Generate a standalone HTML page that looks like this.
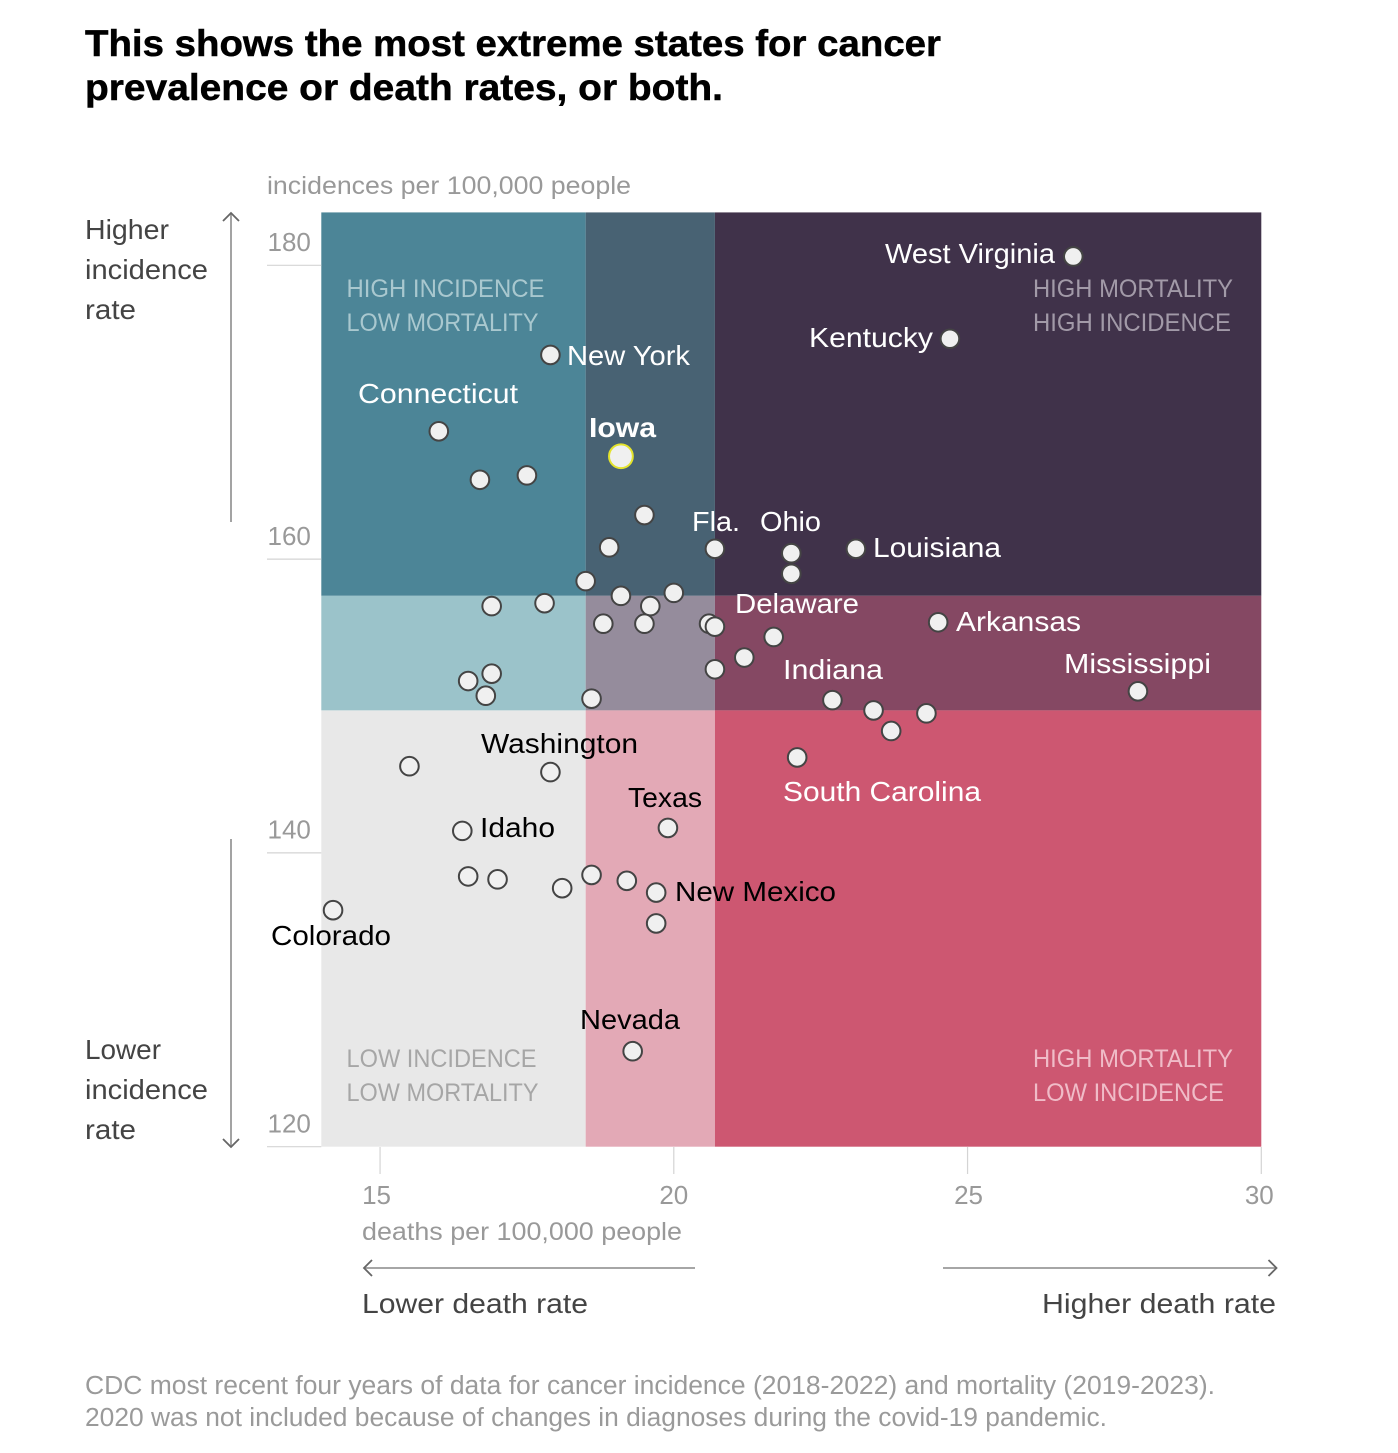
<!DOCTYPE html>
<html lang="en">
<head>
<meta charset="utf-8">
<title>Cancer incidence and mortality by state</title>
<style>
  html, body { margin: 0; padding: 0; background: #fff; }
  svg { display: block; font-family: "Liberation Sans", sans-serif; }
  .lbl { font-size: 28px; }
  .w { fill: #fff; }
  .k { fill: #000; }
  .q { font-size: 25px; }
  .side { font-size: 28px; fill: #444; }
  .unit { font-size: 25px; fill: #999; }
  .foot { font-size: 25.5px; fill: #9a9a9a; }
  .title { font-size: 37px; font-weight: bold; fill: #000; stroke: #000; stroke-width: 0.5px; }
</style>
</head>
<body>
<svg id="chart" width="1398" height="1453" viewBox="0 0 1398 1453" xmlns="http://www.w3.org/2000/svg">
  <rect width="1398" height="1453" fill="#fff"/>

  <text class="title" x="85" y="56" textLength="856" lengthAdjust="spacingAndGlyphs">This shows the most extreme states for cancer</text>
  <text class="title" x="85" y="100" textLength="638" lengthAdjust="spacingAndGlyphs">prevalence or death rates, or both.</text>

  <text class="unit" x="267" y="194" textLength="364" lengthAdjust="spacingAndGlyphs">incidences per 100,000 people</text>

  <g id="bands"></g>
  <g id="axes"></g>

  <g>
    <text class="q" fill="#a9c8cf" x="346.500" y="297" textLength="198" lengthAdjust="spacingAndGlyphs">HIGH INCIDENCE</text>
    <text class="q" fill="#a9c8cf" x="346.500" y="331" textLength="192" lengthAdjust="spacingAndGlyphs">LOW MORTALITY</text>
    <text class="q" fill="#a29aa8" x="1033" y="297" textLength="200" lengthAdjust="spacingAndGlyphs">HIGH MORTALITY</text>
    <text class="q" fill="#a29aa8" x="1033" y="331" textLength="198" lengthAdjust="spacingAndGlyphs">HIGH INCIDENCE</text>
    <text class="q" fill="#a6a6a6" x="346.500" y="1067" textLength="190" lengthAdjust="spacingAndGlyphs">LOW INCIDENCE</text>
    <text class="q" fill="#a6a6a6" x="346.500" y="1101" textLength="192" lengthAdjust="spacingAndGlyphs">LOW MORTALITY</text>
    <text class="q" fill="#f0bcc8" x="1033" y="1067" textLength="200" lengthAdjust="spacingAndGlyphs">HIGH MORTALITY</text>
    <text class="q" fill="#f0bcc8" x="1033" y="1101" textLength="191" lengthAdjust="spacingAndGlyphs">LOW INCIDENCE</text>
  </g>

  <g id="points"></g>

  <g>
    <text class="lbl w" x="885" y="263" textLength="170" lengthAdjust="spacingAndGlyphs">West Virginia</text>
    <text class="lbl w" x="809" y="347" textLength="124" lengthAdjust="spacingAndGlyphs">Kentucky</text>
    <text class="lbl w" x="567" y="365" textLength="123" lengthAdjust="spacingAndGlyphs">New York</text>
    <text class="lbl w" x="358" y="403" textLength="160" lengthAdjust="spacingAndGlyphs">Connecticut</text>
    <text class="lbl w" x="589" y="437" textLength="67" lengthAdjust="spacingAndGlyphs" font-weight="bold">Iowa</text>
    <text class="lbl w" x="692" y="531" textLength="48" lengthAdjust="spacingAndGlyphs">Fla.</text>
    <text class="lbl w" x="760" y="531" textLength="61" lengthAdjust="spacingAndGlyphs">Ohio</text>
    <text class="lbl w" x="873" y="557" textLength="128" lengthAdjust="spacingAndGlyphs">Louisiana</text>
    <text class="lbl w" x="735" y="613" textLength="124" lengthAdjust="spacingAndGlyphs">Delaware</text>
    <text class="lbl w" x="956" y="631" textLength="125" lengthAdjust="spacingAndGlyphs">Arkansas</text>
    <text class="lbl w" x="1064" y="673" textLength="147" lengthAdjust="spacingAndGlyphs">Mississippi</text>
    <text class="lbl w" x="783" y="679" textLength="100" lengthAdjust="spacingAndGlyphs">Indiana</text>
    <text class="lbl w" x="783" y="801" textLength="198" lengthAdjust="spacingAndGlyphs">South Carolina</text>
    <text class="lbl k" x="481" y="753" textLength="157" lengthAdjust="spacingAndGlyphs">Washington</text>
    <text class="lbl k" x="628" y="807" textLength="74" lengthAdjust="spacingAndGlyphs">Texas</text>
    <text class="lbl k" x="480" y="837" textLength="75" lengthAdjust="spacingAndGlyphs">Idaho</text>
    <text class="lbl k" x="675" y="901" textLength="161" lengthAdjust="spacingAndGlyphs">New Mexico</text>
    <text class="lbl k" x="271" y="945" textLength="120" lengthAdjust="spacingAndGlyphs">Colorado</text>
    <text class="lbl k" x="580" y="1029" textLength="100" lengthAdjust="spacingAndGlyphs">Nevada</text>
  </g>

  <g>
    <text class="side" x="85" y="239" textLength="84" lengthAdjust="spacingAndGlyphs">Higher</text>
    <text class="side" x="85" y="279" textLength="123" lengthAdjust="spacingAndGlyphs">incidence</text>
    <text class="side" x="85" y="319" textLength="51" lengthAdjust="spacingAndGlyphs">rate</text>
    <g fill="none" stroke-width="1.800">
      <path stroke="#999" d="M231 214V522"/>
      <path stroke="#666" d="M223 221L231 213L239 221"/>
    </g>
  </g>
  <g>
    <text class="side" x="85" y="1059" textLength="76" lengthAdjust="spacingAndGlyphs">Lower</text>
    <text class="side" x="85" y="1099" textLength="123" lengthAdjust="spacingAndGlyphs">incidence</text>
    <text class="side" x="85" y="1139" textLength="51" lengthAdjust="spacingAndGlyphs">rate</text>
    <g fill="none" stroke-width="1.800">
      <path stroke="#999" d="M231 839V1146"/>
      <path stroke="#666" d="M223 1139L231 1147L239 1139"/>
    </g>
  </g>

  <text class="unit" x="362" y="1240" textLength="320" lengthAdjust="spacingAndGlyphs">deaths per 100,000 people</text>

  <g>
    <g fill="none" stroke-width="1.800">
      <path stroke="#999" d="M364 1268H695"/>
      <path stroke="#666" d="M372 1260L364 1268L372 1276"/>
    </g>
    <text class="side" x="362" y="1313" textLength="226" lengthAdjust="spacingAndGlyphs">Lower death rate</text>
  </g>
  <g>
    <g fill="none" stroke-width="1.800">
      <path stroke="#999" d="M943 1268H1276"/>
      <path stroke="#666" d="M1268.500 1260L1276.500 1268L1268.500 1276"/>
    </g>
    <text class="side" x="1042" y="1313" textLength="234" lengthAdjust="spacingAndGlyphs">Higher death rate</text>
  </g>

  <text class="foot" x="85" y="1394" textLength="1130" lengthAdjust="spacingAndGlyphs">CDC most recent four years of data for cancer incidence (2018-2022) and mortality (2019-2023).</text>
  <text class="foot" x="85" y="1426" textLength="1022" lengthAdjust="spacingAndGlyphs">2020 was not included because of changes in diagnoses during the covid-19 pandemic.</text>
</svg>

<script>
const deathRates = [26.8, 24.7, 17.9, 16.0, 16.7, 17.5, 19.5, 18.9, 20.7, 22.0, 22.0, 23.1, 18.5, 19.1, 20.0, 19.6, 16.9, 17.8, 18.8, 19.5, 20.6, 20.7, 21.7, 21.2, 20.7, 24.5, 27.9, 16.9, 16.5, 16.8, 18.6, 22.7, 23.4, 24.3, 23.7, 22.1, 15.5, 17.9, 19.9, 16.4, 16.5, 17.0, 18.1, 18.6, 19.2, 19.7, 19.7, 14.2, 19.3, 19.1];
const incidenceRates = [180.6, 175.0, 173.9, 168.7, 165.4, 165.7, 163.0, 160.8, 160.7, 160.4, 159.0, 160.7, 158.5, 157.5, 157.7, 156.8, 156.8, 157.0, 155.6, 155.6, 155.6, 155.4, 154.7, 153.3, 152.5, 155.7, 151.0, 152.2, 151.7, 150.7, 150.5, 150.4, 149.7, 149.5, 148.3, 146.5, 145.9, 145.5, 141.7, 141.5, 138.4, 138.2, 137.6, 138.5, 138.1, 137.3, 135.2, 136.1, 126.5, 167.0];
const highlightedPoint = 49;
const xTicks = [15, 20, 25, 30];
const yTicks = [120, 140, 160, 180];
const xBreaks = [14, 18.5, 20.7, 30];
const yBreaks = [183.6, 157.5, 149.7, 120];
const bandColors = ['#4c8597', '#486273', '#40324a', '#9bc3ca', '#958c9c', '#854863', '#e8e8e8', '#e3a9b6', '#cd5771'];
const bandNames = ['high-incidence-low-mortality', 'high-incidence-mid-mortality', 'high-incidence-high-mortality', 'mid-incidence-low-mortality', 'mid-incidence-mid-mortality', 'mid-incidence-high-mortality', 'low-incidence-low-mortality', 'low-incidence-mid-mortality', 'low-incidence-high-mortality'];

const SVG_NS = 'http://www.w3.org/2000/svg';
const xScale = v => 321.3 + (v - 14) * 58.75;
const yScale = v => 1146.7 - (v - 120) * 14.69;
const xLabelNudge = t => (t === 15 ? -3.5 : t === 25 ? 1 : t === 30 ? -2 : 0);

function make(tag, attrs, parent) {
  const el = document.createElementNS(SVG_NS, tag);
  for (const key in attrs) el.setAttribute(key, attrs[key]);
  parent.appendChild(el);
  return el;
}

const bandsGroup = document.getElementById('bands');
for (let row = 0; row < 3; row++) {
  for (let col = 0; col < 3; col++) {
    const band = make('rect', {
      x: xScale(xBreaks[col]),
      y: yScale(yBreaks[row]),
      width: xScale(xBreaks[col + 1]) - xScale(xBreaks[col]),
      height: yScale(yBreaks[row + 1]) - yScale(yBreaks[row]),
      fill: bandColors[row * 3 + col]
    }, bandsGroup);
    
    
  }
}

const axesGroup = document.getElementById('axes');
yTicks.forEach(t => {
  const line = make('line', { x1: 267, x2: 321.3, y1: yScale(t), y2: yScale(t), stroke: '#d4d4d4', 'stroke-width': 1.2 }, axesGroup);
  
  
  const label = make('text', { x: 267.5, y: yScale(t) - 14.2, 'font-size': 26, fill: '#999' }, axesGroup);
  label.textContent = t;
  
  
});
xTicks.forEach(t => {
  const line = make('line', { x1: xScale(t), x2: xScale(t), y1: 1147, y2: 1174, stroke: '#d4d4d4', 'stroke-width': 1.2 }, axesGroup);
  
  
  const label = make('text', { x: xScale(t) + xLabelNudge(t), y: 1204, 'font-size': 26, fill: '#999', 'text-anchor': 'middle' }, axesGroup);
  label.textContent = t;
  
  
});

const pointsGroup = document.getElementById('points');
deathRates.forEach((d, i) => {
  const isHighlight = i === highlightedPoint;
  const dot = make('circle', {
    cx: xScale(d),
    cy: yScale(incidenceRates[i]),
    r: isHighlight ? 11.9 : 9.3,
    fill: '#f0f0f0',
    stroke: isHighlight ? '#e4e32c' : '#444',
    'stroke-width': 2
  }, pointsGroup);
  
  
});
</script>
</body>
</html>
